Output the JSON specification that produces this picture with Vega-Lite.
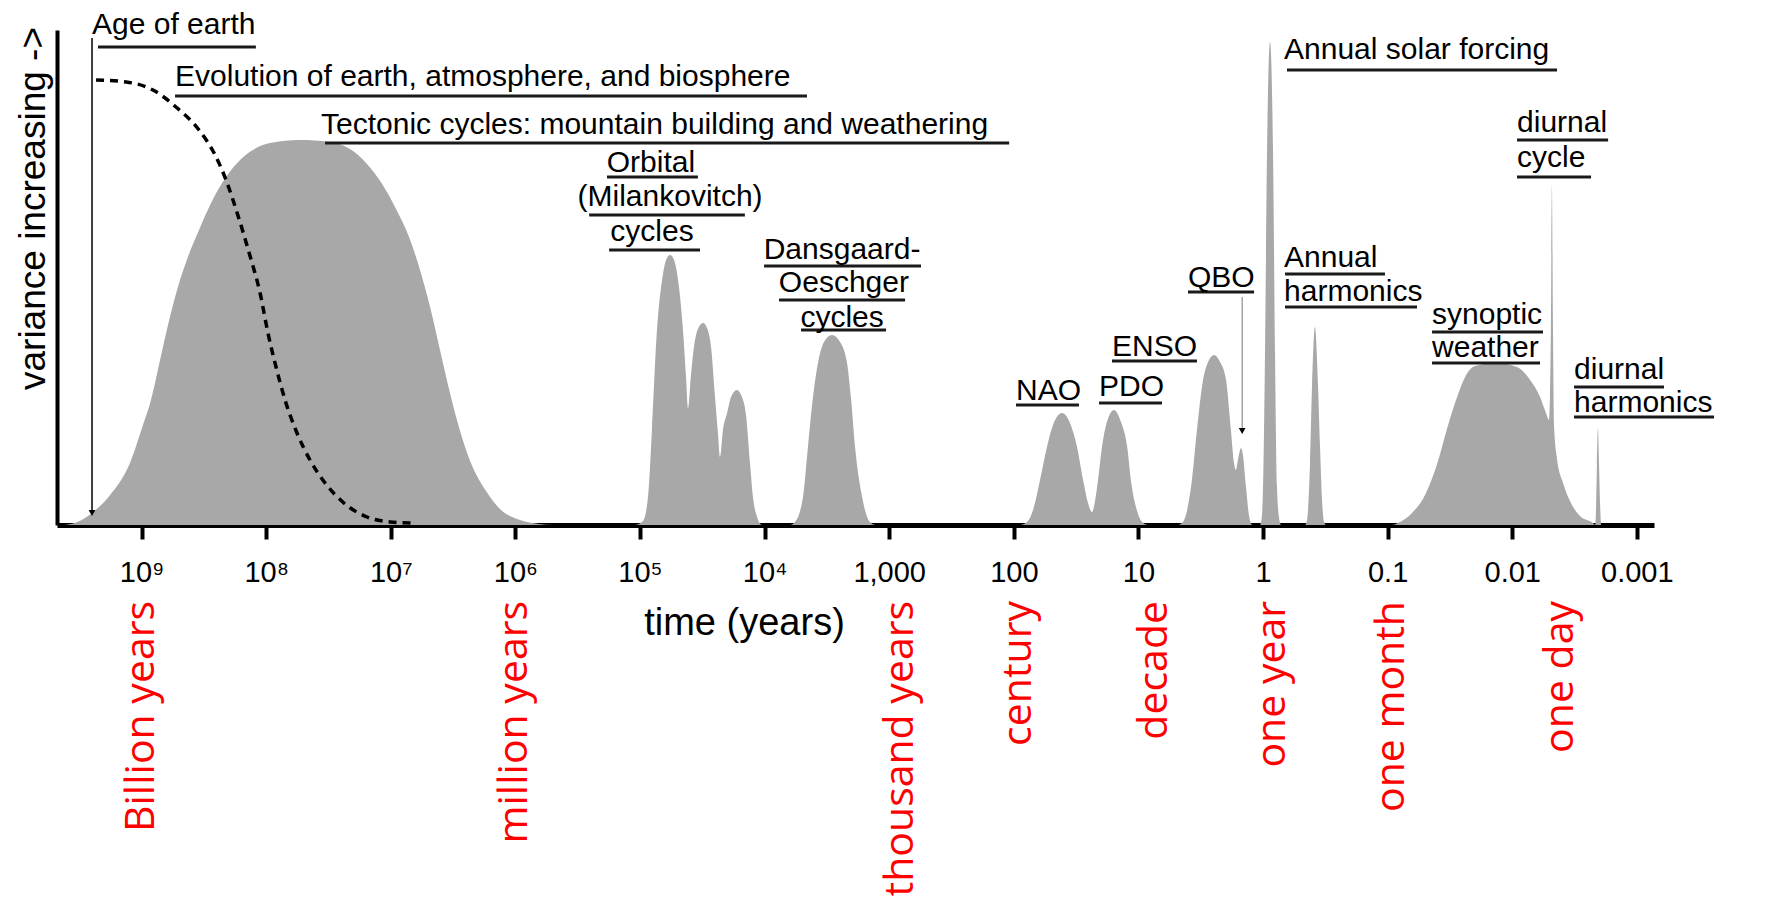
{
  "$schema": "https://vega.github.io/schema/vega-lite/v6.json",
  "width": 1597,
  "height": 495,
  "autosize": {"type": "none"},
  "padding": {"left": 57, "top": 30, "right": 113, "bottom": 377},
  "background": "white",
  "config": {"view": {"stroke": null}, "axis": {"grid": false}},
  "encoding": {
    "x": {
      "field": "period",
      "type": "quantitative",
      "scale": {"type": "log", "domain": [0.000728, 4.775e9], "reverse": true},
      "axis": {
        "title": "time (years)",
        "values": [1e9, 1e8, 1e7, 1e6, 1e5, 1e4, 1000, 100, 10, 1, 0.1, 0.01, 0.001],
        "labelExpr": "datum.value > 5e8 ? '10⁹' : datum.value > 5e7 ? '10⁸' : datum.value > 5e6 ? '10⁷' : datum.value > 5e5 ? '10⁶' : datum.value > 5e4 ? '10⁵' : datum.value > 5e3 ? '10⁴' : format(datum.value, ',')",
        "domainColor": "black",
        "domainWidth": 5,
        "tickColor": "black",
        "tickWidth": 4,
        "tickSize": 14,
        "labelFont": "Liberation Sans",
        "labelFontSize": 29,
        "labelColor": "black",
        "labelPadding": 19,
        "labelFlush": false,
        "labelOverlap": false,
        "titleFont": "Liberation Sans",
        "titleFontSize": 38,
        "titleFontWeight": "normal",
        "titleColor": "black",
        "titleX": 687,
        "titleY": 98,
        "titleBaseline": "middle",
        "titleAlign": "center"
      }
    },
    "y": {
      "field": "variance",
      "type": "quantitative",
      "scale": {"domain": [0, 495], "nice": false, "zero": false},
      "axis": {
        "title": "variance increasing ->",
        "ticks": false,
        "labels": false,
        "domainColor": "black",
        "domainWidth": 4,
        "titleFont": "Liberation Sans",
        "titleFontSize": 37,
        "titleFontWeight": "normal",
        "titleColor": "black",
        "titleX": -24,
        "titleY": 178,
        "titleAngle": -90,
        "titleBaseline": "middle",
        "titleAlign": "center"
      }
    }
  },
  "layer": [
    {
      "data": {"values": [
        {"s": "tectonic", "period": 4.2e9, "variance": 0},
        {"s": "tectonic", "period": 3.43e9, "variance": 2},
        {"s": "tectonic", "period": 2.5e9, "variance": 12},
        {"s": "tectonic", "period": 1.79e9, "variance": 30},
        {"s": "tectonic", "period": 1.24e9, "variance": 62},
        {"s": "tectonic", "period": 9.75e8, "variance": 100},
        {"s": "tectonic", "period": 8.41e8, "variance": 125},
        {"s": "tectonic", "period": 7.11e8, "variance": 165},
        {"s": "tectonic", "period": 6.14e8, "variance": 200},
        {"s": "tectonic", "period": 5.11e8, "variance": 238},
        {"s": "tectonic", "period": 4.25e8, "variance": 268},
        {"s": "tectonic", "period": 3.46e8, "variance": 295},
        {"s": "tectonic", "period": 2.82e8, "variance": 320},
        {"s": "tectonic", "period": 2.26e8, "variance": 342},
        {"s": "tectonic", "period": 1.71e8, "variance": 362},
        {"s": "tectonic", "period": 1.28e8, "variance": 375},
        {"s": "tectonic", "period": 9.33e7, "variance": 382},
        {"s": "tectonic", "period": 5.36e7, "variance": 385},
        {"s": "tectonic", "period": 3.13e7, "variance": 383},
        {"s": "tectonic", "period": 2.12e7, "variance": 376},
        {"s": "tectonic", "period": 1.58e7, "variance": 362},
        {"s": "tectonic", "period": 1.16e7, "variance": 340},
        {"s": "tectonic", "period": 9.08e6, "variance": 316},
        {"s": "tectonic", "period": 7.14e6, "variance": 288},
        {"s": "tectonic", "period": 5.83e6, "variance": 255},
        {"s": "tectonic", "period": 4.84e6, "variance": 218},
        {"s": "tectonic", "period": 4.03e6, "variance": 175},
        {"s": "tectonic", "period": 3.35e6, "variance": 132},
        {"s": "tectonic", "period": 2.84e6, "variance": 98},
        {"s": "tectonic", "period": 2.31e6, "variance": 64},
        {"s": "tectonic", "period": 1.72e6, "variance": 34},
        {"s": "tectonic", "period": 1.33e6, "variance": 16},
        {"s": "tectonic", "period": 9.18e5, "variance": 5},
        {"s": "tectonic", "period": 6.5e5, "variance": 1},
        {"s": "tectonic", "period": 5.0e5, "variance": 0},

        {"s": "orbital", "period": 1.10e5, "variance": 0},
        {"s": "orbital", "period": 9.46e4, "variance": 4},
        {"s": "orbital", "period": 8.63e4, "variance": 28},
        {"s": "orbital", "period": 8.02e4, "variance": 95},
        {"s": "orbital", "period": 7.31e4, "variance": 195},
        {"s": "orbital", "period": 6.65e4, "variance": 245},
        {"s": "orbital", "period": 6.18e4, "variance": 265},
        {"s": "orbital", "period": 5.74e4, "variance": 270},
        {"s": "orbital", "period": 5.33e4, "variance": 265},
        {"s": "orbital", "period": 4.95e4, "variance": 245},
        {"s": "orbital", "period": 4.52e4, "variance": 195},
        {"s": "orbital", "period": 4.28e4, "variance": 150},
        {"s": "orbital", "period": 4.12e4, "variance": 117},
        {"s": "orbital", "period": 3.90e4, "variance": 150},
        {"s": "orbital", "period": 3.69e4, "variance": 178},
        {"s": "orbital", "period": 3.43e4, "variance": 196},
        {"s": "orbital", "period": 3.12e4, "variance": 202},
        {"s": "orbital", "period": 2.90e4, "variance": 197},
        {"s": "orbital", "period": 2.69e4, "variance": 178},
        {"s": "orbital", "period": 2.50e4, "variance": 128},
        {"s": "orbital", "period": 2.37e4, "variance": 92},
        {"s": "orbital", "period": 2.28e4, "variance": 68},
        {"s": "orbital", "period": 2.16e4, "variance": 95},
        {"s": "orbital", "period": 2.00e4, "variance": 112},
        {"s": "orbital", "period": 1.86e4, "variance": 128},
        {"s": "orbital", "period": 1.67e4, "variance": 135},
        {"s": "orbital", "period": 1.52e4, "variance": 128},
        {"s": "orbital", "period": 1.41e4, "variance": 110},
        {"s": "orbital", "period": 1.31e4, "variance": 62},
        {"s": "orbital", "period": 1.24e4, "variance": 28},
        {"s": "orbital", "period": 1.15e4, "variance": 8},
        {"s": "orbital", "period": 1.05e4, "variance": 0},

        {"s": "do", "period": 6250, "variance": 0},
        {"s": "do", "period": 5700, "variance": 3},
        {"s": "do", "period": 4920, "variance": 28},
        {"s": "do", "period": 4490, "variance": 78},
        {"s": "do", "period": 4090, "variance": 128},
        {"s": "do", "period": 3730, "variance": 162},
        {"s": "do", "period": 3340, "variance": 183},
        {"s": "do", "period": 2880, "variance": 190},
        {"s": "do", "period": 2480, "variance": 183},
        {"s": "do", "period": 2180, "variance": 162},
        {"s": "do", "period": 2030, "variance": 128},
        {"s": "do", "period": 1880, "variance": 78},
        {"s": "do", "period": 1650, "variance": 28},
        {"s": "do", "period": 1430, "variance": 3},
        {"s": "do", "period": 1280, "variance": 0},

        {"s": "naopdo", "period": 89.1, "variance": 0},
        {"s": "naopdo", "period": 78.3, "variance": 3},
        {"s": "naopdo", "period": 70.1, "variance": 15},
        {"s": "naopdo", "period": 61.6, "variance": 45},
        {"s": "naopdo", "period": 54.2, "variance": 78},
        {"s": "naopdo", "period": 48.5, "variance": 100},
        {"s": "naopdo", "period": 41.0, "variance": 112},
        {"s": "naopdo", "period": 35.4, "variance": 102},
        {"s": "naopdo", "period": 31.1, "variance": 78},
        {"s": "naopdo", "period": 27.8, "variance": 45},
        {"s": "naopdo", "period": 25.4, "variance": 22},
        {"s": "naopdo", "period": 23.6, "variance": 13},
        {"s": "naopdo", "period": 21.9, "variance": 30},
        {"s": "naopdo", "period": 21.1, "variance": 45},
        {"s": "naopdo", "period": 19.6, "variance": 78},
        {"s": "naopdo", "period": 17.9, "variance": 103},
        {"s": "naopdo", "period": 15.7, "variance": 115},
        {"s": "naopdo", "period": 13.8, "variance": 103},
        {"s": "naopdo", "period": 12.3, "variance": 78},
        {"s": "naopdo", "period": 11.5, "variance": 45},
        {"s": "naopdo", "period": 10.3, "variance": 15},
        {"s": "naopdo", "period": 9.35, "variance": 3},
        {"s": "naopdo", "period": 8.37, "variance": 0},

        {"s": "ensoqbo", "period": 4.81, "variance": 0},
        {"s": "ensoqbo", "period": 4.39, "variance": 3},
        {"s": "ensoqbo", "period": 3.72, "variance": 45},
        {"s": "ensoqbo", "period": 3.39, "variance": 95},
        {"s": "ensoqbo", "period": 3.03, "variance": 145},
        {"s": "ensoqbo", "period": 2.76, "variance": 163},
        {"s": "ensoqbo", "period": 2.47, "variance": 170},
        {"s": "ensoqbo", "period": 2.21, "variance": 163},
        {"s": "ensoqbo", "period": 1.98, "variance": 145},
        {"s": "ensoqbo", "period": 1.81, "variance": 95},
        {"s": "ensoqbo", "period": 1.71, "variance": 62},
        {"s": "ensoqbo", "period": 1.65, "variance": 55},
        {"s": "ensoqbo", "period": 1.59, "variance": 65},
        {"s": "ensoqbo", "period": 1.50, "variance": 77},
        {"s": "ensoqbo", "period": 1.45, "variance": 70},
        {"s": "ensoqbo", "period": 1.37, "variance": 38},
        {"s": "ensoqbo", "period": 1.29, "variance": 8},
        {"s": "ensoqbo", "period": 1.22, "variance": 0},

        {"s": "annual", "period": 1.057, "variance": 0},
        {"s": "annual", "period": 1.019, "variance": 10},
        {"s": "annual", "period": 1.0, "variance": 38},
        {"s": "annual", "period": 0.964, "variance": 172},
        {"s": "annual", "period": 0.929, "variance": 372},
        {"s": "annual", "period": 0.879, "variance": 483},
        {"s": "annual", "period": 0.831, "variance": 372},
        {"s": "annual", "period": 0.801, "variance": 172},
        {"s": "annual", "period": 0.772, "variance": 38},
        {"s": "annual", "period": 0.745, "variance": 8},
        {"s": "annual", "period": 0.717, "variance": 0},

        {"s": "annualharm", "period": 0.460, "variance": 0},
        {"s": "annualharm", "period": 0.443, "variance": 5},
        {"s": "annualharm", "period": 0.420, "variance": 60},
        {"s": "annualharm", "period": 0.404, "variance": 140},
        {"s": "annualharm", "period": 0.383, "variance": 198},
        {"s": "annualharm", "period": 0.362, "variance": 140},
        {"s": "annualharm", "period": 0.349, "variance": 80},
        {"s": "annualharm", "period": 0.336, "variance": 25},
        {"s": "annualharm", "period": 0.324, "variance": 3},
        {"s": "annualharm", "period": 0.312, "variance": 0},

        {"s": "synoptic", "period": 0.0923, "variance": 0},
        {"s": "synoptic", "period": 0.0795, "variance": 3},
        {"s": "synoptic", "period": 0.0637, "variance": 12},
        {"s": "synoptic", "period": 0.0501, "variance": 30},
        {"s": "synoptic", "period": 0.0394, "variance": 64},
        {"s": "synoptic", "period": 0.0334, "variance": 96},
        {"s": "synoptic", "period": 0.0277, "variance": 128},
        {"s": "synoptic", "period": 0.0239, "variance": 148},
        {"s": "synoptic", "period": 0.0199, "variance": 159},
        {"s": "synoptic", "period": 0.0135, "variance": 162},
        {"s": "synoptic", "period": 0.00915, "variance": 158},
        {"s": "synoptic", "period": 0.00719, "variance": 145},
        {"s": "synoptic", "period": 0.00598, "variance": 128},
        {"s": "synoptic", "period": 0.00536, "variance": 112},
        {"s": "synoptic", "period": 0.00507, "variance": 105},
        {"s": "synoptic", "period": 0.00489, "variance": 200},
        {"s": "synoptic", "period": 0.0048, "variance": 340},
        {"s": "synoptic", "period": 0.00471, "variance": 200},
        {"s": "synoptic", "period": 0.00462, "variance": 100},
        {"s": "synoptic", "period": 0.00437, "variance": 66},
        {"s": "synoptic", "period": 0.00391, "variance": 42},
        {"s": "synoptic", "period": 0.00344, "variance": 24},
        {"s": "synoptic", "period": 0.00286, "variance": 9},
        {"s": "synoptic", "period": 0.00225, "variance": 2},
        {"s": "synoptic", "period": 0.00197, "variance": 0},

        {"s": "diurnalharm", "period": 0.00216, "variance": 0},
        {"s": "diurnalharm", "period": 0.00212, "variance": 20},
        {"s": "diurnalharm", "period": 0.00209, "variance": 60},
        {"s": "diurnalharm", "period": 0.00205, "variance": 97},
        {"s": "diurnalharm", "period": 0.00201, "variance": 60},
        {"s": "diurnalharm", "period": 0.00197, "variance": 20},
        {"s": "diurnalharm", "period": 0.00194, "variance": 0}
      ]},
      "mark": {"type": "area", "interpolate": "monotone", "color": "#a8a8a8"},
      "encoding": {"detail": {"field": "s"}}
    },
    {
      "data": {"values": [
        {"period": 2.32e9, "variance": 445},
        {"period": 1.33e9, "variance": 443},
        {"period": 8.11e8, "variance": 435},
        {"period": 5.3e8, "variance": 418},
        {"period": 3.46e8, "variance": 395},
        {"period": 2.62e8, "variance": 372},
        {"period": 2.1e8, "variance": 345},
        {"period": 1.71e8, "variance": 312},
        {"period": 1.37e8, "variance": 272},
        {"period": 1.12e8, "variance": 232},
        {"period": 9.68e7, "variance": 192},
        {"period": 8.34e7, "variance": 158},
        {"period": 7.06e7, "variance": 125},
        {"period": 5.66e7, "variance": 92},
        {"period": 4.45e7, "variance": 65},
        {"period": 3.37e7, "variance": 42},
        {"period": 2.38e7, "variance": 22},
        {"period": 1.55e7, "variance": 8},
        {"period": 1.01e7, "variance": 3},
        {"period": 6.89e6, "variance": 2}
      ]},
      "mark": {"type": "line", "interpolate": "monotone", "color": "black", "strokeWidth": 3.5, "strokeDash": [8, 6]}
    },
    {
      "data": {"values": [
        {"period": 2.5e9, "variance": 487, "variance2": 14}
      ]},
      "mark": {"type": "rule", "color": "black", "strokeWidth": 1.5},
      "encoding": {"y2": {"field": "variance2"}}
    },
    {
      "data": {"values": [
        {"period": 1.47, "variance": 228, "variance2": 96}
      ]},
      "mark": {"type": "rule", "color": "#777777", "strokeWidth": 1},
      "encoding": {"y2": {"field": "variance2"}}
    },
    {
      "data": {"values": [
        {"period": 2.5e9, "variance": 12},
        {"period": 1.47, "variance": 94}
      ]},
      "mark": {"type": "point", "shape": "triangle-down", "filled": true, "color": "black", "size": 45, "opacity": 1}
    },
    {
      "data": {"values": [
        {"period": 2.24e9, "period_end": 1.21e8, "variance": 478},
        {"period": 5.39e8, "period_end": 4570, "variance": 429},
        {"period": 3.37e7, "period_end": 109, "variance": 382},
        {"period": 1.84e5, "period_end": 3.43e4, "variance": 348},
        {"period": 2.56e5, "period_end": 1.44e4, "variance": 310},
        {"period": 1.77e5, "period_end": 3.30e4, "variance": 275},
        {"period": 1.01e4, "period_end": 556, "variance": 259},
        {"period": 7660, "period_end": 746, "variance": 225},
        {"period": 5100, "period_end": 1060, "variance": 195},
        {"period": 96.0, "period_end": 30.0, "variance": 120},
        {"period": 20.7, "period_end": 6.47, "variance": 122},
        {"period": 16.3, "period_end": 3.39, "variance": 164},
        {"period": 4.00, "period_end": 1.18, "variance": 233},
        {"period": 0.642, "period_end": 0.00437, "variance": 455},
        {"period": 0.666, "period_end": 0.105, "variance": 251},
        {"period": 0.666, "period_end": 0.0581, "variance": 218},
        {"period": 0.00915, "period_end": 0.0017, "variance": 385},
        {"period": 0.00915, "period_end": 0.00233, "variance": 348},
        {"period": 0.044, "period_end": 0.00566, "variance": 193},
        {"period": 0.044, "period_end": 0.00598, "variance": 162},
        {"period": 0.00319, "period_end": 0.000605, "variance": 138},
        {"period": 0.00319, "period_end": 0.00024, "variance": 108}
      ]},
      "mark": {"type": "rule", "color": "#1a1a1a", "strokeWidth": 3},
      "encoding": {"x2": {"field": "period_end"}}
    },
    {
      "data": {"values": [
        {"t": "Age of earth", "period": 2.5e9, "variance": 500},
        {"t": "Evolution of earth, atmosphere, and biosphere", "period": 5.39e8, "variance": 448},
        {"t": "Tectonic cycles: mountain building and weathering", "period": 3.63e7, "variance": 400},
        {"t": "NAO", "period": 96.0, "variance": 134},
        {"t": "PDO", "period": 20.7, "variance": 138},
        {"t": "ENSO", "period": 16.3, "variance": 178},
        {"t": "QBO", "period": 4.00, "variance": 247},
        {"t": "Annual solar forcing", "period": 0.678, "variance": 475},
        {"t": "Annual", "period": 0.678, "variance": 267},
        {"t": "harmonics", "period": 0.678, "variance": 233},
        {"t": "diurnal", "period": 0.00915, "variance": 402},
        {"t": "cycle", "period": 0.00915, "variance": 367},
        {"t": "synoptic", "period": 0.044, "variance": 210},
        {"t": "weather", "period": 0.044, "variance": 177},
        {"t": "diurnal", "period": 0.00319, "variance": 155},
        {"t": "harmonics", "period": 0.00319, "variance": 122}
      ]},
      "mark": {"type": "text", "align": "left", "baseline": "middle", "font": "Liberation Sans", "fontSize": 30, "color": "black"},
      "encoding": {"text": {"field": "t"}}
    },
    {
      "data": {"values": [
        {"t": "Orbital", "period": 8.17e4, "variance": 362},
        {"t": "(Milankovitch)", "period": 5.74e4, "variance": 328},
        {"t": "cycles", "period": 8.02e4, "variance": 293},
        {"t": "Dansgaard-", "period": 2390, "variance": 275},
        {"t": "Oeschger", "period": 2310, "variance": 242},
        {"t": "cycles", "period": 2390, "variance": 207}
      ]},
      "mark": {"type": "text", "align": "center", "baseline": "middle", "font": "Liberation Sans", "fontSize": 30, "color": "black"},
      "encoding": {"text": {"field": "t"}}
    },
    {
      "data": {"values": [
        {"t": "Billion years", "period": 1e9, "variance": -76},
        {"t": "million years", "period": 1e6, "variance": -76},
        {"t": "thousand years", "period": 804, "variance": -76},
        {"t": "century", "period": 91, "variance": -76},
        {"t": "decade", "period": 7.36, "variance": -76},
        {"t": "one year", "period": 0.831, "variance": -76},
        {"t": "one month", "period": 0.0922, "variance": -76},
        {"t": "one day", "period": 0.00406, "variance": -76}
      ]},
      "mark": {"type": "text", "angle": 270, "align": "right", "baseline": "middle", "font": "Open Sans", "fontSize": 41, "color": "#ff0000"},
      "encoding": {"text": {"field": "t"}}
    }
  ]
}
